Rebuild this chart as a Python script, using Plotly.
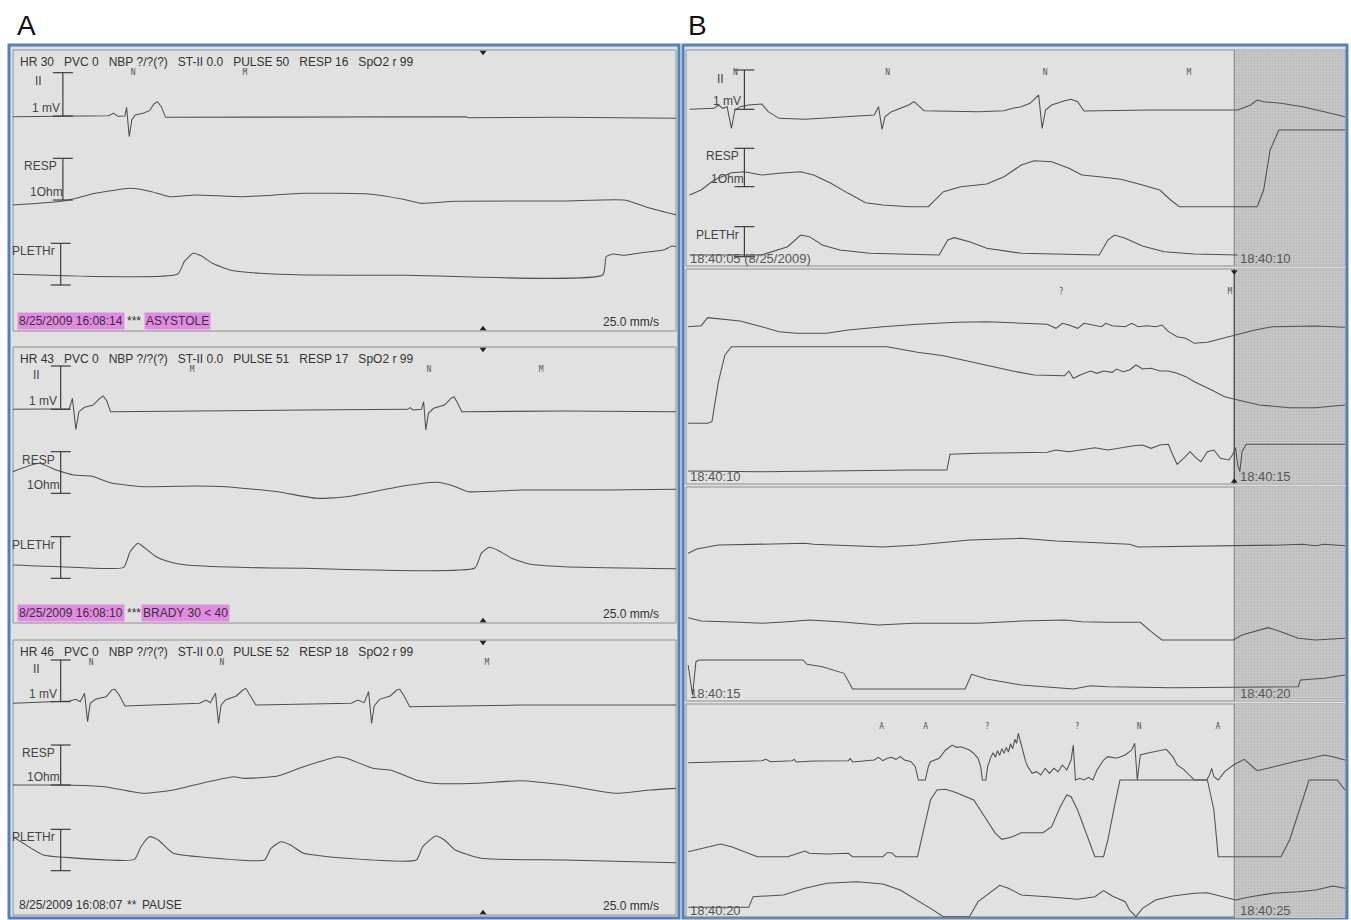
import plotly.graph_objects as go

# ======================= DATA =======================
# x = position along the strip in paper mm (25 mm/s), y = trace height in display units

# ---- Panel A, strip 1 (16:08:14 ASYSTOLE)
a1_ecg_t = [0, 9, 22, 23.2, 24.2, 25.8, 26.2, 26.8, 27.4, 28.2, 30, 31.5, 32.5, 33.3, 34.2, 35.2, 57, 87, 104.5, 105, 127, 153]
a1_ecg_v = [64.3, 64.4, 64.6, 65.3, 64.4, 64.5, 67.1, 58.3, 63.3, 64.8, 65.3, 66.1, 68.1, 68.8, 67.3, 64.1, 64.1, 64.3, 64.3, 64.0, 64.1, 63.8]
a1_resp_t = [0, 12, 19, 27, 32, 36, 42, 53, 67, 82, 90, 94, 102, 127, 141, 147, 153]
a1_resp_v = [37.8, 39.1, 41.3, 42.8, 41.8, 40.3, 40.8, 40.3, 41.3, 41.1, 39.5, 38.3, 38.9, 39.0, 39.3, 36.8, 34.8]
a1_pleth_t = [0, 38, 39.5, 41.5, 43.5, 46, 50, 57, 67, 91, 136, 136.8, 138.5, 141, 145, 150, 152, 153]
a1_pleth_v = [17, 17.1, 20.8, 23.3, 22.5, 20.3, 18.3, 17.3, 16.8, 16.7, 16.8, 22.3, 23.1, 22.7, 23.5, 24.3, 25.5, 25.3]

# ---- Panel A, strip 2 (16:08:10 BRADY)
a2_ecg_t = [0, 11, 13, 13.7, 14.5, 15.2, 16.5, 18.5, 20, 20.8, 21.6, 22.5, 37, 67, 91, 91.6, 92.2, 94.2, 94.7, 95.2,
            95.8, 97, 99.5, 101, 101.7, 102.5, 103.5, 127, 153]
a2_ecg_v = [64.1, 64.2, 64.3, 67.4, 58.1, 63.4, 64.7, 65.4, 67.4, 68.1, 66.7, 63.4, 63.6, 63.9, 64.1, 64.6, 63.9, 64.1, 66.4, 57.9,
            62.9, 64.4, 65.4, 67.4, 67.9, 66.1, 63.4, 63.6, 63.4]
a2_resp_t = [0, 6, 10, 14, 18, 23, 30, 42, 49, 61, 70, 77, 89, 98, 102, 105, 117, 137, 153]
a2_resp_v = [45.4, 47.9, 45.9, 44.4, 44.1, 41.9, 40.9, 41.1, 40.9, 39.4, 37.4, 37.9, 40.9, 42.2, 40.9, 39.4, 39.9, 39.9, 40.1]
a2_pleth_t = [0, 11, 25.5, 27, 28.8, 30.5, 33, 36, 40, 52, 67, 106.5, 108, 109.8, 112, 115, 119, 127, 153]
a2_pleth_v = [17.4, 16.9, 16.7, 21.4, 23.9, 22.4, 19.9, 18.4, 17.4, 16.7, 16.4, 16.5, 20.9, 22.7, 21.7, 19.4, 17.7, 16.9, 16.3]

# ---- Panel A, strip 3 (16:08:07 PAUSE)
a3_ecg_t = [0, 13, 14.5, 15.5, 16.5, 17.2, 17.8, 19, 21.5, 22.8, 23.5, 24.5, 25.8, 43, 44.5, 45.5, 46.7, 47.4, 48, 49,
            51.5, 53, 53.7, 54.7, 56, 78, 79.5, 81, 82, 82.7, 83.3, 84.5, 87, 88.5, 89.2, 90.2, 91.5, 117, 153]
a3_ecg_v = [63.5, 64.2, 64.7, 64, 66.5, 58, 63.5, 64.7, 65.5, 67.5, 67.7, 66, 62.7, 63.5, 64.5, 63.7, 66.5, 57.5, 63, 64.5,
            65.7, 67.5, 68, 66, 63, 63.5, 64.5, 63.7, 67, 57.5, 62.7, 64.7, 65.7, 67.5, 67.7, 65.7, 62.5, 63, 63]
a3_resp_t = [0, 12, 21, 30, 37, 45, 51, 53, 61, 67, 75, 77, 83, 87, 93, 97, 107, 117, 127, 139, 147, 153]
a3_resp_v = [39, 39, 38.5, 36.5, 37.5, 40, 41.5, 41, 41.7, 44.5, 47.5, 47, 44, 43.5, 40.5, 39.5, 39.5, 40.3, 39, 36.5, 37.5, 38]
a3_pleth_t = [0, 7, 12, 28, 29.5, 31.5, 33.5, 37, 47, 58, 59.5, 61.8, 64, 67, 77, 93, 94.5, 97.5, 99.5, 102, 108, 127, 153]
a3_pleth_v = [23.5, 18, 17.3, 16.7, 20.5, 23.5, 22.5, 18.5, 17, 16.5, 20, 22, 21, 18.5, 17, 16.5, 20.5, 23.7, 22.5, 19.5, 17, 16.5, 15.7]

# ---- Panel B, strip 1 (18:40:05 - 18:40:10)
b1_ecg_t = [0.8, 6.5, 7.5, 8.5, 9.5, 10.5, 11.3, 12.5, 14.5, 17.5, 19, 21.5, 27.5, 41.5, 43.5, 44.5, 45.3, 46, 47.5, 51.5,
            52.7, 54, 55, 67.5, 73.5, 75.5, 77.5, 79.5, 81.5, 82.3, 83.1, 84.5, 87.5, 89, 90.5, 92, 107.5, 127.5, 130.5, 132,
            133.5, 137.5, 142.5, 147.5, 152.3]
b1_ecg_v = [47, 47.3, 48.3, 47.3, 47.8, 41.3, 46.8, 47.8, 48.3, 48.6, 46.3, 44.3, 44, 45, 45.3, 47.8, 41, 44.8, 46.3, 48.3,
            49.3, 47.8, 46.6, 46.3, 46.6, 47.3, 47.8, 48.8, 51.3, 41.3, 46.8, 48.3, 49.6, 50, 49.3, 46.5, 46.8, 46.8, 48.3, 49.8,
            49.3, 48.8, 47.8, 46.3, 44.8]
b1_resp_t = [0.8, 3.5, 6.5, 10.5, 13.5, 17.5, 21.5, 26.5, 29.5, 33.5, 37.5, 41.5, 45.5, 51.5, 56, 57.5, 59.5, 63.5, 69.5, 73.5,
             77.5, 80.5, 84.5, 88.5, 91.5, 95.5, 100.5, 105.5, 109.5, 112, 114, 117.5, 132, 133.5, 135, 137, 152.3]
b1_resp_v = [21.3, 22.8, 25.8, 28, 28.3, 27.3, 27.8, 28.3, 27.3, 24.8, 21.8, 19, 18.3, 17.8, 17.8, 19.8, 22.3, 23.8, 24.6, 26.8,
             30.3, 31.6, 31.3, 29.3, 27.3, 26.8, 26, 24.3, 22.8, 19.8, 17.8, 17.8, 17.8, 22.8, 34.8, 40.8, 40.8]
b1_pleth_t = [0.8, 17.5, 23.5, 26.5, 28.5, 31.5, 35.5, 42.5, 58.5, 60.5, 62, 65.5, 69.5, 77.5, 95.5, 97.5, 99, 101.5, 105.5, 110.5, 117.5, 127.5]
b1_pleth_v = [3.3, 3.3, 5.8, 9.3, 8.8, 6.3, 4.8, 3.8, 3.3, 7.8, 8.5, 7.3, 5.3, 3.8, 3.3, 7.8, 9.3, 8.3, 6, 4.3, 3.6, 3.3]

# ---- Panel B, strip 2 (18:40:10 - 18:40:15)
b2_ecg_t = [0.5, 3.5, 5, 7.5, 12.5, 17.5, 21.5, 25.5, 32.5, 37.5, 45.5, 53.5, 62.5, 69.5, 77.5, 83.5, 85.5, 87, 88.5, 90.5,
            92, 94, 96, 97, 98.5, 101.5, 103, 104.5, 106.5, 108.5, 110, 111.5, 113.5, 115.5, 117.5, 120.5, 123.5, 127.5, 131.5, 135.5,
            142.5, 145.5, 152.3]
b2_ecg_v = [47.2, 47.5, 49.9, 49.5, 48.9, 47.2, 45.7, 45.2, 45.2, 46.2, 47.2, 47.9, 48.5, 48.7, 48.2, 47.9, 46.7, 48.2, 47.7, 46.7,
            48.2, 47.7, 47.2, 48.2, 47.5, 47.2, 48.2, 47.2, 47.5, 47.2, 47.7, 45.7, 44.2, 43.7, 42.2, 42.5, 43.5, 44.7, 46.2, 47.2,
            47.2, 47.4, 47]
b2_resp_t = [0.5, 5, 6, 7.5, 9, 10.5, 46.5, 53.5, 59.5, 67.5, 75.5, 80.5, 87.5, 88.5, 89.5, 91.5, 93.5, 95, 96.5, 98.5,
             99.5, 101, 102.5, 104, 105.5, 107.5, 109.5, 111.5, 113.5, 115.5, 117.5, 121.5, 124.5, 127.5, 132.5, 139.5, 145.5, 152.3]
b2_resp_v = [18.2, 18.2, 18.7, 30.7, 38.7, 41.2, 41.2, 39.5, 38.5, 36.2, 33.9, 32.7, 32.5, 33.9, 31.7, 32.9, 33.9, 33.2, 33.9, 33.5,
             34.5, 33.7, 34.2, 35.7, 34.5, 34.7, 33.9, 33.9, 33.2, 32.2, 30.7, 28.2, 26.2, 25.2, 23.7, 22.9, 22.9, 23.7]
b2_pleth_t = [0.5, 17.5, 52.5, 60.3, 61, 67.5, 83.5, 85.5, 88.5, 91.5, 94.5, 97.5, 100.5, 103.5, 105.5, 107.5, 109.5, 111.5, 112.5, 113.5,
              115, 116.5, 118, 119, 120.5, 122, 123.5, 125.5, 126.5, 127, 127.5, 128, 128.5, 129.5, 152.3]
b2_pleth_v = [3.9, 3.7, 4.2, 4.2, 8.9, 9.2, 9.5, 10.2, 9.7, 10.2, 10.9, 10.2, 10.9, 11.5, 11.7, 10.7, 11.7, 11.9, 8.7, 5.9,
              7.7, 9.7, 7.7, 6.7, 9.7, 10.2, 7.7, 7.2, 9.2, 10.9, 5.7, 3.7, 9.7, 11.9, 11.9]

# ---- Panel B, strip 3 (18:40:15 - 18:40:20)
b3_ecg_t = [0.5, 2.5, 7.5, 17.5, 27.5, 29.5, 37.5, 45.5, 53.5, 57.5, 65.5, 77.5, 85.5, 92.5, 102.5, 104.5, 112.5, 122.5, 127.5, 132.5,
            137.5, 142.5, 145.5, 147.5, 152.3]
b3_ecg_v = [44.3, 45.6, 46.8, 47, 47.3, 47, 46.5, 46.2, 46.8, 47.3, 48.3, 48.8, 48, 47.6, 47, 46.2, 46.3, 46.6, 46.5, 46.6,
            46.8, 47, 46.6, 47, 46.6]
b3_resp_t = [0.5, 3.5, 12.5, 17.5, 23.5, 28.5, 35.5, 44.5, 52.5, 67.5, 77.5, 87.5, 91.5, 97.5, 105, 107.5, 110, 126.5, 128.5, 131.5,
             134.5, 137.5, 141.5, 145.5, 152.3]
b3_resp_v = [25, 24, 23.6, 23.3, 23.8, 24.3, 23.8, 22.8, 23.3, 23.3, 24, 24.3, 23.8, 23.6, 23.6, 20.8, 18.3, 18.3, 19.8, 20.8,
             22, 20.8, 18.8, 18.3, 18.8]
b3_pleth_t = [0.5, 1.5, 2.3, 3, 27, 28, 31.5, 36.5, 38, 38.5, 64.5, 66, 69.5, 77.5, 89.5, 93.5, 97.5, 112.5, 126.5, 141.5, 142, 147.5, 152.3]
b3_pleth_v = [10.8, 1.8, 11.8, 12.3, 12.3, 11, 10.3, 8.3, 4.8, 3.6, 3.6, 8, 6.6, 4.8, 3.6, 4.6, 4.3, 4, 4.1, 4.3, 6.3, 6.8, 7.8]

# ---- Panel B, strip 4 (18:40:20 - 18:40:25)
b4_ecg_t = [0.5, 7.5, 12.5, 17.5, 18.5, 19.5, 24.5, 25, 25.5, 29.5,
            37.5, 38, 38.5, 43.5, 44.5, 45.5, 46.5, 47.5, 48.5, 49.5,
            50.5, 52, 53, 53.7, 55.3, 56, 56.5, 57.5, 58.5, 60,
            61.5, 62.5, 63.5, 64.5, 65.5, 66.5, 67.5, 68.1, 68.5, 69.3,
            69.7, 70.5, 71, 71.5, 72, 72.5, 73, 73.5, 74, 74.5, 75, 75.5, 76, 76.4, 76.8, 77.5,
            78, 78.5, 79, 80, 81, 82, 83, 84, 85, 86,
            87, 88, 89, 89.5, 90, 91, 92, 93, 94, 95,
            96.5, 97.5, 99.5, 101.5, 103, 103.7, 104.3, 105, 106.5, 108.5,
            111, 112.5, 113.5, 115, 116, 117.5, 120.3, 121, 121.5, 122,
            123, 124.5, 126.5, 129, 130.5, 132, 134.5, 137.5, 140.5, 144.5,
            147.5, 149.5, 152.3]
b4_ecg_v = [46.6, 46.8, 47.1, 47.2, 47.6, 46.9, 47.2, 47.6, 46.8, 47.1,
            47.2, 47.8, 46.8, 47.4, 48.2, 47.2, 47.9, 48.2, 47.6, 48.4,
            47.4, 46.9, 45.4, 41.4, 41.4, 45.4, 46.9, 47.4, 47.9, 50.4,
            51.9, 51.2, 51.4, 50.9, 50.4, 49.4, 47.9, 45.4, 41.4, 41.4,
            45.4, 48.4, 49.6, 48.2, 50.2, 48.8, 50.8, 49.4, 51.2, 49.8, 52.2, 50.8, 53.6, 52.4, 55.4, 51.9,
            49.4, 46.9, 45.4, 43.4, 43.9, 42.9, 44.9, 43.4, 44.9, 43.9,
            45.9, 44.4, 47.4, 51.9, 41.4, 41.9, 41.4, 42.2, 41.4, 44.4,
            47.4, 48.4, 47.9, 48.9, 50.4, 52.4, 41.4, 48.9, 49.4, 49.9,
            50.6, 48.4, 45.9, 44.6, 43.4, 41.4, 41.4, 42.9, 44.9, 42.4,
            41.4, 43.9, 45.9, 47.6, 45.9, 44.2, 44.9, 45.9, 46.9, 47.9,
            48.9, 48.4, 47.4]
b4_resp_t = [0.5, 3.5, 5.5, 8, 10.5, 13.5, 16.5, 23.5, 26.5, 27.5, 28.5, 32.5, 37.5, 38.5, 45.5, 46.5, 47.5, 48.5, 53.5, 55,
             56.5, 58, 60, 62.5, 66.5, 68.5, 71.5, 73, 75.5, 77.5, 82.5, 84.5, 86.5, 88, 89, 90.5, 92.5, 94.5, 96.5, 97.5,
             99, 100.3, 120.5, 122, 123, 137.5, 139.5, 142, 144, 150.5, 152.3]
b4_resp_v = [19.9, 20.9, 21.4, 22.2, 21.4, 19.9, 18.4, 18.4, 19.6, 20.1, 19.4, 19.2, 19.4, 18.4, 18.4, 19.6, 19.6, 18.4, 18.4, 27.4,
             35.4, 38.4, 38.6, 37.6, 35.4, 31.4, 25.4, 23.6, 24.4, 25.6, 25.6, 27.4, 33.4, 36.9, 36.4, 32.4, 25.4, 18.4, 18.4, 23.4,
             33.4, 41.4, 41.4, 32.4, 18.4, 18.4, 23.4, 33.4, 41.4, 41.4, 38.4]
b4_pleth_t = [0.5, 14.5, 15.5, 22.5, 27.5, 32.5, 39.5, 45.5, 49.5, 53.5, 56.5, 59.5, 65.5, 67.5, 69.5, 72.5, 74.5, 77.5, 83.5, 90.5,
              94.5, 96.5, 98.5, 101.5, 102.5, 104, 105.5, 108.5, 112.5, 117.5, 120.5, 123.5, 127, 130.5, 135.5, 141.5, 145.5, 149.5, 152.3]
b4_pleth_v = [3.2, 3.2, 6.4, 6.9, 8.9, 10.4, 10.9, 10.2, 8.4, 5.4, 2.9, 0.4, 0.4, 4.9, 6.9, 9.8, 8.9, 6.9, 6.4, 5.6,
              6.4, 8.2, 6.6, 4.9, 2.4, 0.4, 2.9, 5.4, 6.6, 7.4, 7.6, 6.6, 5.4, 6.4, 7.4, 7.9, 8.4, 9.6, 8.9]

# ---- calibration bars (x, low, high) for II, RESP, PLETH
a1_cal_x, a1_cal_lo, a1_cal_hi = [11.5, 11.5, 11.0], [64.5, 39.3, 13.8], [77.5, 51.8, 26.3]
a2_cal_x, a2_cal_lo, a2_cal_hi = [11.0, 11.0, 11.0], [64.1, 38.9, 13.4], [77.1, 51.4, 25.9]
a3_cal_x, a3_cal_lo, a3_cal_hi = [11.0, 11.0, 11.0], [64.0, 39.0, 13.3], [76.5, 51.0, 25.7]
b1_cal_x, b1_cal_lo, b1_cal_hi = [13.5, 13.5, 13.5], [47.0, 23.8, 2.8], [58.8, 35.3, 11.8]
cal_names = ["II", "RESP", "PLETHr"]
cal_units = ["1 mV", "1Ohm", ""]

# ---- beat annotations
a1_beat_t, a1_beat_lbl = [27.7, 53.5], ["N", "M"]
a2_beat_t, a2_beat_lbl = [41.3, 95.9, 121.8], ["M", "N", "M"]
a3_beat_t, a3_beat_lbl = [18.0, 48.2, 109.3], ["N", "N", "M"]
b1_beat_t, b1_beat_lbl = [11.4, 46.6, 83.0, 116.2], ["N", "N", "N", "M"]
b2_beat_t, b2_beat_lbl = [86.7, 125.7], ["?", "M"]
b3_beat_t, b3_beat_lbl = [], []
b4_beat_t, b4_beat_lbl = [45.2, 55.4, 69.6, 90.4, 104.7, 122.9], ["A", "A", "?", "?", "N", "A"]

# ---- event marks / cursor
a_event_t = [108.4, 108.4, 108.4]
b_cursor_t = [126.7, 126.7, 126.7, 126.7]

# ---- texts
a_headers = [
    ["HR 30", "PVC 0", "NBP ?/?(?)", "ST-II 0.0", "PULSE 50", "RESP 16", "SpO2 r 99"],
    ["HR 43", "PVC 0", "NBP ?/?(?)", "ST-II 0.0", "PULSE 51", "RESP 17", "SpO2 r 99"],
    ["HR 46", "PVC 0", "NBP ?/?(?)", "ST-II 0.0", "PULSE 52", "RESP 18", "SpO2 r 99"],
]
a_dates = ["8/25/2009 16:08:14", "8/25/2009 16:08:10", "8/25/2009 16:08:07"]
a_stars = ["***", "***", "**"]
a_alarms = ["ASYSTOLE", "BRADY 30 < 40", "PAUSE"]
a_alarm_highlight = [True, True, False]
a_speed = "25.0 mm/s"
b_time_left = ["18:40:05 (8/25/2009)", "18:40:10", "18:40:15", "18:40:20"]
b_time_right = ["18:40:10", "18:40:15", "18:40:20", "18:40:25"]

# ======================= LAYOUT =======================
W, H = 1351, 920
BG = "#e1e1e1"
SHADE = "#c6c6c6"
TRACE = "#505050"
TXT = "#333333"
BLUE = "#4f81bd"
HIL = "#e38ae3"
FONT = "Liberation Sans, Arial, sans-serif"
NB = "\u00a0"

# strip boxes in pixels (left, top, right, bottom), with axis extents
STRIPS = [
    dict(box=(13, 50, 676, 331), xr=152.9, yr=84.3),
    dict(box=(13, 347, 676, 623), xr=152.9, yr=82.8),
    dict(box=(13, 640, 676, 915), xr=152.9, yr=82.5),
    dict(box=(686, 50, 1345, 266), xr=152.3, yr=64.8),
    dict(box=(686, 269, 1345, 484), xr=152.3, yr=64.5),
    dict(box=(686, 487, 1345, 701), xr=152.3, yr=64.2),
    dict(box=(686, 704, 1345, 918), xr=152.3, yr=64.2),
]

TRACES = [
    [(a1_ecg_t, a1_ecg_v), (a1_resp_t, a1_resp_v), (a1_pleth_t, a1_pleth_v)],
    [(a2_ecg_t, a2_ecg_v), (a2_resp_t, a2_resp_v), (a2_pleth_t, a2_pleth_v)],
    [(a3_ecg_t, a3_ecg_v), (a3_resp_t, a3_resp_v), (a3_pleth_t, a3_pleth_v)],
    [(b1_ecg_t, b1_ecg_v), (b1_resp_t, b1_resp_v), (b1_pleth_t, b1_pleth_v)],
    [(b2_ecg_t, b2_ecg_v), (b2_resp_t, b2_resp_v), (b2_pleth_t, b2_pleth_v)],
    [(b3_ecg_t, b3_ecg_v), (b3_resp_t, b3_resp_v), (b3_pleth_t, b3_pleth_v)],
    [(b4_ecg_t, b4_ecg_v), (b4_resp_t, b4_resp_v), (b4_pleth_t, b4_pleth_v)],
]
CALS = {0: (a1_cal_x, a1_cal_lo, a1_cal_hi), 1: (a2_cal_x, a2_cal_lo, a2_cal_hi),
        2: (a3_cal_x, a3_cal_lo, a3_cal_hi), 3: (b1_cal_x, b1_cal_lo, b1_cal_hi)}
BEATS = [(a1_beat_t, a1_beat_lbl), (a2_beat_t, a2_beat_lbl), (a3_beat_t, a3_beat_lbl),
         (b1_beat_t, b1_beat_lbl), (b2_beat_t, b2_beat_lbl), (b3_beat_t, b3_beat_lbl), (b4_beat_t, b4_beat_lbl)]


def refs(i):
    return ("x" if i == 0 else f"x{i+1}"), ("y" if i == 0 else f"y{i+1}")


def paper(x, y):
    return x / W, 1 - y / H


fig = go.Figure()
layout = dict(width=W, height=H, margin=dict(l=0, r=0, t=0, b=0), paper_bgcolor="white",
              plot_bgcolor="rgba(0,0,0,0)", showlegend=False, hovermode=False)
shapes, annotations = [], []

# panel frames
for (l, t, r, b) in [(9, 45, 679, 918), (683, 45, 1347, 918)]:
    x0, y1 = paper(l, t)
    x1, y0 = paper(r, b)
    shapes.append(dict(type="rect", xref="paper", yref="paper", x0=x0, x1=x1, y0=y0, y1=y1,
                       line=dict(color=BLUE, width=3), fillcolor=BG, layer="below"))

for i, s in enumerate(STRIPS):
    xr, yr = refs(i)
    l, t, r, b = s["box"]
    layout["xaxis" if i == 0 else f"xaxis{i+1}"] = dict(domain=[l / W, r / W], range=[0, s["xr"]], visible=False,
                                                        fixedrange=True, anchor=yr)
    layout["yaxis" if i == 0 else f"yaxis{i+1}"] = dict(domain=[1 - b / H, 1 - t / H], range=[0, s["yr"]], visible=False,
                                                        fixedrange=True, anchor=xr)
    shapes.append(dict(type="rect", xref=f"{xr} domain", yref=f"{yr} domain", x0=0, x1=1, y0=0, y1=1,
                       line=dict(color="#8e8e8e", width=1), layer="below"))

    # shaded post-cursor region (panel B)
    if i >= 3:
        c = b_cursor_t[i - 3]
        fig.add_trace(go.Scatter(x=[c, s["xr"], s["xr"], c, c], y=[0, 0, s["yr"], s["yr"], 0], xaxis=xr, yaxis=yr,
                                 mode="lines", fill="toself", line=dict(width=0),
                                 fillpattern=dict(shape=".", bgcolor=SHADE, fgcolor="#a4a4a4", size=3, solidity=0.25)))
        fig.add_trace(go.Scatter(x=[c, c], y=[0, s["yr"]], xaxis=xr, yaxis=yr, mode="lines",
                                 line=dict(color="#3a3a3a" if i == 4 else "#808080", width=1.2 if i == 4 else 1)))
        if i == 4:
            fig.add_trace(go.Scatter(x=[c, c], y=[s["yr"] - 0.8, 0.8], xaxis=xr, yaxis=yr, mode="markers",
                                     marker=dict(symbol=["triangle-down", "triangle-up"], size=6, color="#222"),
                                     cliponaxis=False))

    # waveforms (respiration / pleth curves in panel A are smooth)
    for k, (tt, vv) in enumerate(TRACES[i]):
        smooth = (i < 3 and k > 0)
        fig.add_trace(go.Scatter(x=tt, y=vv, xaxis=xr, yaxis=yr, mode="lines",
                                 line=dict(color=TRACE, width=1.05, shape="spline" if smooth else "linear",
                                           smoothing=0.5 if smooth else None)))

    # calibration bars + their labels
    if i in CALS:
        cx, clo, chi = CALS[i]
        for k in range(len(cx)):
            fig.add_trace(go.Scatter(x=[cx[k], cx[k], None, cx[k] - 2.3, cx[k] + 2.3, None, cx[k] - 2.3, cx[k] + 2.3],
                                     y=[clo[k], chi[k], None, chi[k], chi[k], None, clo[k], clo[k]],
                                     xaxis=xr, yaxis=yr, mode="lines", line=dict(color="#3c3c3c", width=1.2)))
            name = cal_names[k]
            if name == "II":
                annotations.append(dict(text=name, x=cx[k] - 5.6, y=chi[k] - 2.6, xref=xr, yref=yr, xanchor="center",
                                        yanchor="middle", showarrow=False, font=dict(size=12, color="#444", family=FONT)))
            else:
                annotations.append(dict(text=name, x=cx[k] - 0.8, y=chi[k] - 2.4, xref=xr, yref=yr, xanchor="right",
                                        yanchor="middle", showarrow=False, font=dict(size=12, color="#444", family=FONT)))
            if cal_units[k]:
                annotations.append(dict(text=cal_units[k], x=cx[k] + (0.4 if k == 1 else -0.3), y=clo[k] + 2.4,
                                        xref=xr, yref=yr, xanchor="right", yanchor="middle", showarrow=False,
                                        font=dict(size=12, color="#444", family=FONT)))

    # beat labels
    bt, bl = BEATS[i]
    if bt:
        fig.add_trace(go.Scatter(x=bt, y=[s["yr"] - 6.8] * len(bt), xaxis=xr, yaxis=yr, mode="text", text=bl,
                                 textfont=dict(size=8, color="#555555", family="DejaVu Sans Mono, monospace"),
                                 cliponaxis=False))

    # panel A strip texts
    if i < 3:
        e = a_event_t[i]
        fig.add_trace(go.Scatter(x=[e, e], y=[s["yr"] - 0.7, 0.7], xaxis=xr, yaxis=yr, mode="markers",
                                 marker=dict(symbol=["triangle-down", "triangle-up"], size=6, color="#222"),
                                 cliponaxis=False))
        annotations.append(dict(text=(NB * 3).join(a_headers[i]), x=1.1, y=s["yr"] - 3.6, xref=xr, yref=yr,
                                xanchor="left", yanchor="middle", showarrow=False,
                                font=dict(size=12, color=TXT, family=FONT)))
        hl = a_alarm_highlight[i]
        annotations.append(dict(text=a_dates[i], x=0.9, y=3.0, xref=xr, yref=yr, xanchor="left", yanchor="middle",
                                showarrow=False, bgcolor=HIL if hl else None, borderpad=1,
                                font=dict(size=12, color=TXT, family=FONT)))
        annotations.append(dict(text=a_stars[i], x=25.8, y=3.0, xref=xr, yref=yr, xanchor="left", yanchor="middle",
                                showarrow=False, font=dict(size=12, color=TXT, family=FONT)))
        annotations.append(dict(text=a_alarms[i], x=(30.3 if i == 0 else 29.6 if i == 1 else 29.2), y=3.0,
                                xref=xr, yref=yr, xanchor="left", yanchor="middle", showarrow=False,
                                bgcolor=HIL if hl else None, borderpad=1,
                                font=dict(size=12, color=TXT, family=FONT)))
        annotations.append(dict(text=a_speed, x=149.4, y=2.8, xref=xr, yref=yr, xanchor="right", yanchor="middle",
                                showarrow=False, font=dict(size=12, color=TXT, family=FONT)))
    else:
        j = i - 3
        annotations.append(dict(text=b_time_left[j], x=0.4, y=2.2, xref=xr, yref=yr, xanchor="left", yanchor="middle",
                                showarrow=False, font=dict(size=13, color="#555", family=FONT)))
        annotations.append(dict(text=b_time_right[j], x=b_cursor_t[j] + 0.8, y=2.2, xref=xr, yref=yr, xanchor="left",
                                yanchor="middle", showarrow=False, font=dict(size=13, color="#555", family=FONT)))

# panel letters
for txt, px in [("A", 15), ("B", 686)]:
    x, y = paper(px, 25)
    annotations.append(dict(text=txt, x=x, y=y, xref="paper", yref="paper", xanchor="left", yanchor="middle",
                            showarrow=False, font=dict(size=28, color="#111", family=FONT)))

layout["shapes"] = shapes
layout["annotations"] = annotations
fig.update_layout(**layout)
fig.update_traces(hoverinfo="skip")
fig.write_html("out.html", config={"displayModeBar": False, "staticPlot": True},
               post_script="document.body.style.margin='0';document.body.style.overflow='hidden';")
